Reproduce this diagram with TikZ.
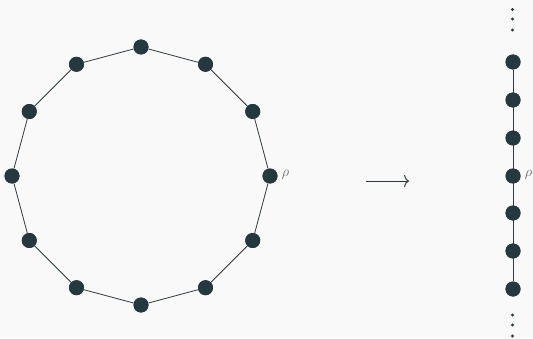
\documentclass[tikz,border=0pt]{standalone}
\usetikzlibrary{arrows.meta}
\definecolor{nodec}{HTML}{25383F}
\definecolor{edgec}{HTML}{2E3B40}
\definecolor{labc}{HTML}{666666}
\definecolor{bgc}{HTML}{F9F9F9}
\tikzset{
  vtx/.style={circle,fill=nodec,inner sep=0pt,minimum size=15pt},
  edg/.style={draw=edgec,line width=0.8pt},
  lab/.style={text=labc,font=\fontsize{14}{16}\selectfont,inner sep=0pt},
  vdot/.style={circle,fill=nodec,inner sep=0pt,minimum size=3.2pt},
}
\begin{document}
\begin{tikzpicture}[x=1pt,y=1pt]
\fill[bgc] (0,0) rectangle (533,338);
\useasboundingbox (0,0) rectangle (533,338);
% 12-gon, centre (141,162), radius 129
\foreach \i in {0,...,11} {
  \node[vtx] (c\i) at ({141+129*cos(30*\i)},{162+129*sin(30*\i)}) {};
}
\foreach \i [evaluate=\i as \j using {int(mod(\i+1,12))}] in {0,...,11} {
  \draw[edg] (c\i) -- (c\j);
}
\foreach \i in {0,...,11} {
  \node[vtx] at (c\i) {};
}
\node[lab,anchor=west] (rho1) at ([xshift=4pt,yshift=1pt]c0.east) {$\rho$};
% arrow
\coordinate (a1) at (366,157);
\coordinate (a2) at (409,157);
\draw[edg,line width=1pt,-{To[length=5pt,width=12pt]}] (a1) -- (a2);
% chain
\foreach \k/\yy in {1/276,2/238,3/200,4/162,5/125,6/87,7/49} {
  \node[vtx] (l\k) at (513,\yy) {};
}
\draw[edg] (l1) -- (l7);
\foreach \k in {1,...,7} { \node[vtx] at (l\k) {}; }
\node[lab,anchor=west] (rho2) at ([xshift=4pt,yshift=1pt]l4.east) {$\rho$};
% vertical dots
\foreach \yy [count=\n] in {328.5,319,308} { \node[vdot] (t\n) at (512.5,\yy) {}; }
\foreach \yy [count=\n] in {23,13,2} { \node[vdot] (b\n) at (512.5,\yy) {}; }
\end{tikzpicture}
\end{document}
